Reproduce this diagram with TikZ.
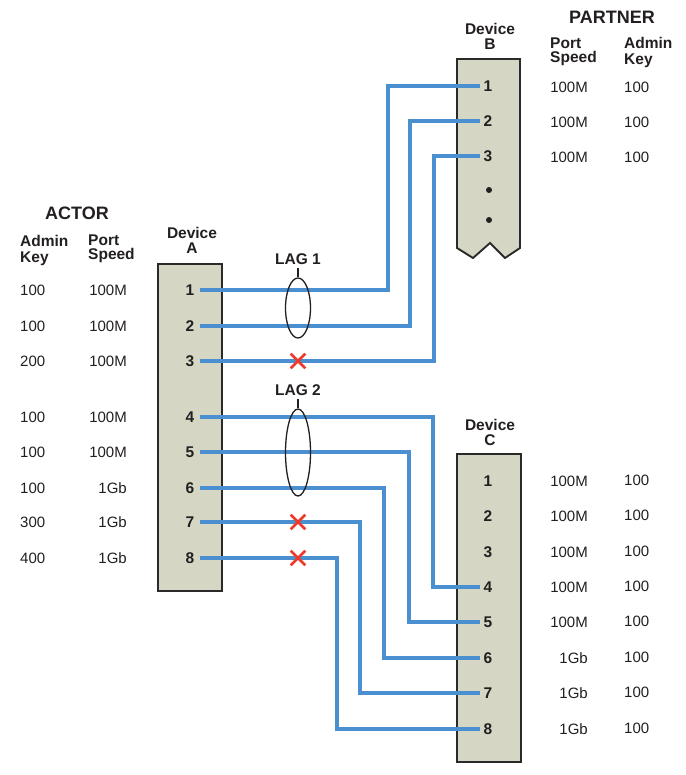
\documentclass[tikz,border=0pt]{standalone}
\usepackage{fontspec}
\setmainfont{Liberation Sans}
\usetikzlibrary{shapes.geometric, shapes.misc}
\definecolor{linkblue}{HTML}{4A8FCF}
\definecolor{cutred}{HTML}{EE3A2A}
\definecolor{devfill}{HTML}{D6D6C4}
\definecolor{devedge}{HTML}{2A2A2A}
\definecolor{ink}{HTML}{231F20}

\begin{document}
\begin{tikzpicture}[x=1pt, y=-1pt,
  devbox/.style={draw=devedge, line width=1.9pt, fill=devfill},
  port/.style={text=ink, font=\fontsize{15.5}{15}\selectfont\bfseries, inner sep=0pt},
  val/.style={text=ink, font=\fontsize{15}{15}\selectfont, inner sep=0pt},
  colhead/.style={text=ink, font=\fontsize{15.5}{15}\selectfont\bfseries, inner sep=0pt, align=left, anchor=north west},
  devlabel/.style={text=ink, font=\fontsize{15.5}{15.5}\selectfont\bfseries, inner sep=0pt, align=center, anchor=south},
  title/.style={text=ink, font=\fontsize{18}{18}\selectfont\bfseries, inner sep=0pt},
  link/.style={linkblue, line width=3.2pt, shorten <=5pt, shorten >=3pt},
  cut/.style={cross out, draw=cutred, line width=2.6pt, minimum size=12pt, inner sep=0pt},
  lag/.style={ellipse, draw=ink, line width=1.3pt, minimum width=25pt, inner sep=0pt}
]

\useasboundingbox (0,0) rectangle (685,775);

% Device boxes
\draw[devbox] (158,264) rectangle (222,591);
\draw[devbox] (457,59) -- (520,59) -- (520,248) -- (505,258) -- (490,243)
  -- (473,258) -- (457,248) -- cycle;
\draw[devbox] (457,454) rectangle (521,762);

% Device labels
\node[devlabel] (devA) at (192,254) {Device\\A};
\node[devlabel] (devB) at (490,50) {Device\\B};
\node[devlabel] (devC) at (490,446) {Device\\C};

% Actor table
\node[title] (actor) at (77,213) {ACTOR};
\node[colhead] (akeyhd) at (20,235) {Admin\\[1pt]Key};
\node[colhead] (aspdhd) at (88,234.5) {Port\\[-1pt]Speed};
\foreach \y/\key/\spd [count=\i] in {290/100/100M, 326/100/100M, 361/200/100M,
    417/100/100M, 452/100/100M, 488/100/1Gb, 522/300/1Gb, 558/400/1Gb} {
  \node[val, anchor=west] (akey\i) at (20,\y) {\key};
  \node[val, anchor=east] (aspd\i) at (127,\y) {\spd};
  \node[port] (a\i) at (190,\y) {\i};
}

% Partner table
\node[title] (partner) at (612,17) {PARTNER};
\node[colhead] (bspdhd) at (550,37.5) {Port\\[-1pt]Speed};
\node[colhead] (bkeyhd) at (624,37.5) {Admin\\[1pt]Key};
\foreach \y [count=\i] in {86,121,156} {
  \node[port] (b\i) at (488,\y) {\i};
  \node[val, anchor=east] (bspd\i) at (588,\y+1) {100M};
  \node[val, anchor=west] (bkey\i) at (624,\y+1) {100};
}
\fill[ink] (489,190) circle [radius=3pt];
\fill[ink] (489,220) circle [radius=3pt];

% Device C ports
\foreach \y/\spd [count=\i] in {481/100M, 516/100M, 552/100M, 587/100M,
    622/100M, 658/1Gb, 693/1Gb, 729/1Gb} {
  \node[port] (c\i) at (488,\y) {\i};
  \node[val, anchor=east] (cspd\i) at (588,\y) {\spd};
  \node[val, anchor=west] (ckey\i) at (624,\y-1) {100};
}

% Links to device B
\foreach \i/\kx in {1/388, 2/410, 3/434} {
  \coordinate (ka\i) at (\kx,0);
  \draw[link] (a\i.east) -- (a\i.east -| ka\i) |- (b\i.west);
}
% Links to device C
\foreach \i/\kx in {4/433, 5/409, 6/384, 7/360, 8/337} {
  \coordinate (kc\i) at (\kx,0);
  \draw[link] (a\i.east) -- (a\i.east -| kc\i) |- (c\i.west);
}

% Link aggregation groups
\node[lag, minimum height=60pt] (lag1) at (298,308) {};
\node[port] (lag1lbl) at (298,259) {LAG 1};
\draw[ink, line width=1.3pt, shorten >=3pt] (lag1.north) -- (lag1lbl.south);
\node[lag, minimum height=87pt] (lag2) at (298,452.5) {};
\node[port] (lag2lbl) at (298,390) {LAG 2};
\draw[ink, line width=1.3pt, shorten >=3pt] (lag2.north) -- (lag2lbl.south);

% Links left out of a group
\node[cut] (cut3) at (298,361) {};
\node[cut] (cut7) at (298,522) {};
\node[cut] (cut8) at (298,558) {};

\end{tikzpicture}
\end{document}
